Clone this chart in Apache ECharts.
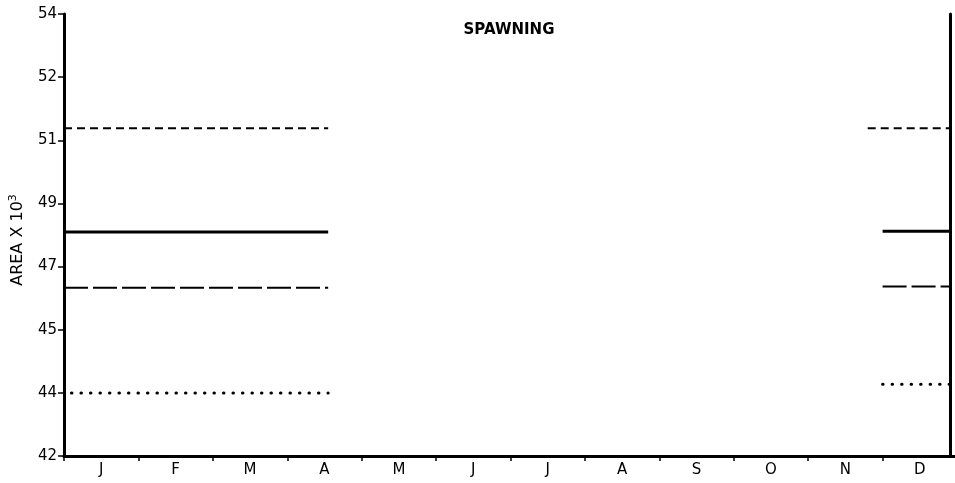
<!DOCTYPE html>
<html lang="en">
  <head>
    <meta charset="utf-8" />
    <script src="https://cdn.jsdelivr.net/npm/echarts@6/dist/echarts.min.js"></script>
    <title>Spawning</title>
    <style>
      html, body { margin: 0; padding: 0; background: #fff; }
      #chart { width: 955px; height: 483px; }
    </style>
  </head>
  <body>
    <div id="chart"></div>
    <script>
      // months along the bottom
      var months = ['J', 'F', 'M', 'A', 'M', 'J', 'J', 'A', 'S', 'O', 'N', 'D']
      // the y axis has 7 equal steps between 42 and 54, labels are rounded
      var yMin = 42
      var yMax = 54
      var yLabels = ['42', '44', '45', '47', '49', '51', '52', '54']

      // each level: [start month, end month, value] (months counted from 0)
      var upperDashed = [[0, 3.55, 50.9], [10.8, 11.9, 50.9]]
      var meanSolid = [[0, 3.55, 48.08], [11.0, 11.9, 48.1]]
      var lowerDashed = [[0, 3.55, 46.57], [11.0, 11.9, 46.6]]
      var lowDotted = [[0.1, 3.55, 43.71], [11.0, 11.9, 43.95]]

      var step = (yMax - yMin) / 7
      function toAxis(v) { return (v - yMin) / step }

      // two segments with a gap between them
      function segs(list) {
        var out = []
        list.forEach(function (s, i) {
          if (i > 0) out.push([null, null])
          out.push([s[0], toAxis(s[2])])
          out.push([s[1], toAxis(s[2])])
        })
        return out
      }

      function lineSeries(list, width, dash, cap) {
        return {
          type: 'line',
          xAxisIndex: 1,
          data: segs(list),
          symbol: 'none',
          connectNulls: false,
          silent: true,
          lineStyle: { color: '#000', width: width, type: dash, cap: cap || 'butt' }
        }
      }

      var font = 'DejaVu Sans'
      var chart = echarts.init(document.getElementById('chart'), null, { renderer: 'canvas' })
      chart.setOption({
        animation: false,
        backgroundColor: '#fff',
        title: {
          text: 'SPAWNING',
          left: 504,
          top: 18,
          textAlign: 'center',
          textStyle: { fontFamily: font, fontSize: 15, fontWeight: 900, color: '#000' }
        },
        grid: { left: 64, right: -2, top: 14, bottom: 27, containLabel: false, outerBoundsMode: 'none' },
        xAxis: [
          {
            type: 'category',
            data: months,
            boundaryGap: true,
            axisLine: { lineStyle: { color: '#000', width: 3 } },
            axisTick: { show: true, length: 5, lineStyle: { color: '#000', width: 1.5 } },
            axisLabel: { fontFamily: font, fontSize: 15, color: '#000', margin: 7 },
            splitLine: { show: false }
          },
          {
            type: 'value',
            min: 0,
            max: 12,
            show: false
          }
        ],
        yAxis: [
          {
            type: 'value',
            min: 0,
            max: 7,
            interval: 1,
            name: 'AREA X 10{s|3}',
            nameLocation: 'middle',
            nameRotate: 90,
            nameGap: 36,
            nameTextStyle: {
              fontFamily: font, fontSize: 16, color: '#000',
              padding: [0, 10, 0, 0],
              rich: { s: { fontFamily: font, fontSize: 11, verticalAlign: 'top', padding: [0, 0, 9, 0] } }
            },
            axisLine: { show: true, lineStyle: { color: '#000', width: 3 } },
            axisTick: { show: true, length: 6, lineStyle: { color: '#000', width: 1.5 } },
            axisLabel: {
              fontFamily: font, fontSize: 15, color: '#000', margin: 7,
              formatter: function (v) { return yLabels[Math.round(v)] }
            },
            splitLine: { show: false }
          },
          {
            type: 'value',
            min: 0,
            max: 7,
            position: 'right',
            offset: -7,
            axisLine: { show: true, lineStyle: { color: '#000', width: 3 } },
            axisTick: { show: false },
            axisLabel: { show: false },
            splitLine: { show: false }
          }
        ],
        series: [
          lineSeries(upperDashed, 2, [8, 5]),
          lineSeries(meanSolid, 3, 'solid'),
          lineSeries(lowerDashed, 2, [24, 5]),
          lineSeries(lowDotted, 3, [0.5, 9], 'round')
        ]
      })
    </script>
  </body>
</html>
